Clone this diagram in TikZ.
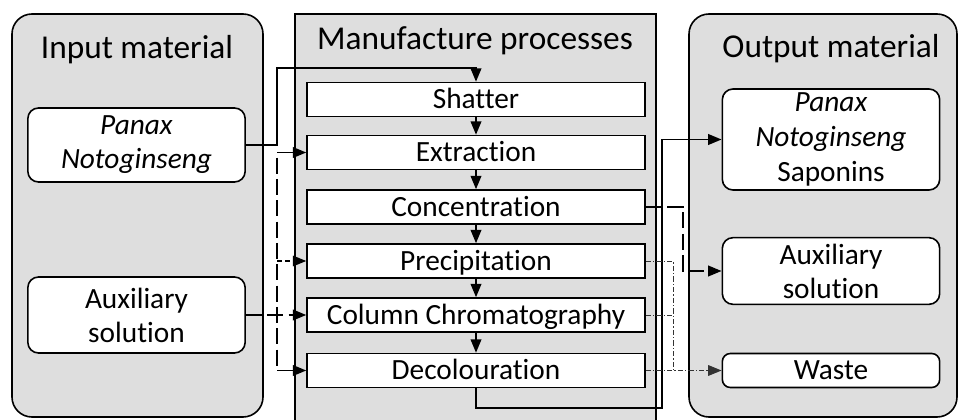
\documentclass[tikz,border=0pt]{standalone}
\usepackage{fontspec}
\setmainfont{Carlito}[Ligatures=NoCommon]
\usetikzlibrary{arrows.meta}
\begin{document}
\begin{tikzpicture}[x=0.75pt,y=-0.75pt,>={Triangle[length=10pt,width=8pt]}]
	\tikzstyle{panel}=[draw=black, line width=1.2pt, fill=black!13]
	\tikzstyle{title}=[font=\fontsize{25}{30}\selectfont, anchor=base]
	\tikzstyle{proc}=[draw=black, line width=1.2pt, fill=white, minimum width=253.5pt, minimum height=25.5pt, inner sep=0pt, text height=14.2pt, text depth=0pt, font=\fontsize{22}{25}\selectfont]
	\tikzstyle{mat}=[draw=black, line width=1.2pt, fill=white, rounded corners=8pt, minimum width=163pt, inner sep=0pt, align=center, font=\fontsize{22}{25.5}\selectfont]
	\tikzstyle{edge}=[draw=black, line width=1.2pt]
	\tikzstyle{dashline}=[edge, dash pattern=on 12pt off 4pt]
	\tikzstyle{fineline}=[draw=black, line width=0.8pt, dash pattern=on 4pt off 2pt]
	\tikzstyle{dotline}=[draw=black!80, line width=0.7pt, dash pattern=on 4pt off 1.5pt on 1pt off 1.5pt]

	\useasboundingbox (0,0) rectangle (959,420);

	% panels
	\draw[panel, rounded corners=15pt] (12,14) rectangle (263,417);
	\draw[panel] (295,14) rectangle (656,430);
	\draw[panel, rounded corners=15pt] (689,14) rectangle (957,417);

	\node [title] (tin) at (137,59) {Input material};
	\node [title] (tproc) at (475,50) {Manufacture processes};
	\node [title] (tout) at (831,58) {Output material};

	% materials
	\node [mat, minimum height=55.5pt] (pnx) at (136.5,145) {\textit{Panax}\\\textit{Notoginseng}};
	\node [mat, minimum height=57pt] (auxin) at (136.5,315) {Auxiliary\\solution};
	\node [mat, minimum height=75.75pt, font=\fontsize{22}{26.5}\selectfont] (sap) at (831,139.5) {\textit{Panax}\\\textit{Notoginseng}\\Saponins};
	\node [mat, minimum height=50pt] (auxout) at (831,271) {Auxiliary\\solution};
	\node [mat, minimum height=25.5pt, rounded corners=6pt] (waste) at (831,370.5) {Waste};

	% processes
	\node [proc] (shat) at (476,99.5) {Shatter};
	\node [proc] (extr) at (476,152.5) {Extraction};
	\node [proc] (conc) at (476,207) {Concentration};
	\node [proc] (prec) at (476,261) {Precipitation};
	\node [proc] (colm) at (476,315) {Column Chromatography};
	\node [proc] (deco) at (476,370.5) {Decolouration};

	\path[edge,->] (shat) -- (extr);
	\path[edge,->] (extr) -- (conc);
	\path[edge,->] (conc) -- (prec);
	\path[edge,->] (prec) -- (colm);
	\path[edge,->] (colm) -- (deco);

	% inputs
	\coordinate (feed) at (277,68);
	\coordinate (busbot) at (277,370.5);
	\path[edge,->] (pnx.east) -| (feed) -| (shat.north);
	\path[dashline,<->] (extr.west) -| (busbot) -- (deco.west);
	\path[fineline,->] (busbot |- prec.west) -- (prec.west);
	\path[dashline,->] (auxin.east) -- (colm.west);

	% outputs
	\coordinate (ret) at (662,408);
	\coordinate (recov) at (683,207);
	\coordinate (wjoin) at (673,370.5);
	\path[edge,->] (deco.south) |- (ret) |- (sap.west);
	\path[dashline,->] (conc.east) -- (recov) |- (auxout.west);
	\path[dotline] (prec.east) -| (wjoin);
	\path[dotline] (colm.east) -- (wjoin |- colm.east);
	\path[dotline,->] (deco.east) -- (waste.west);

\end{tikzpicture}
\end{document}
